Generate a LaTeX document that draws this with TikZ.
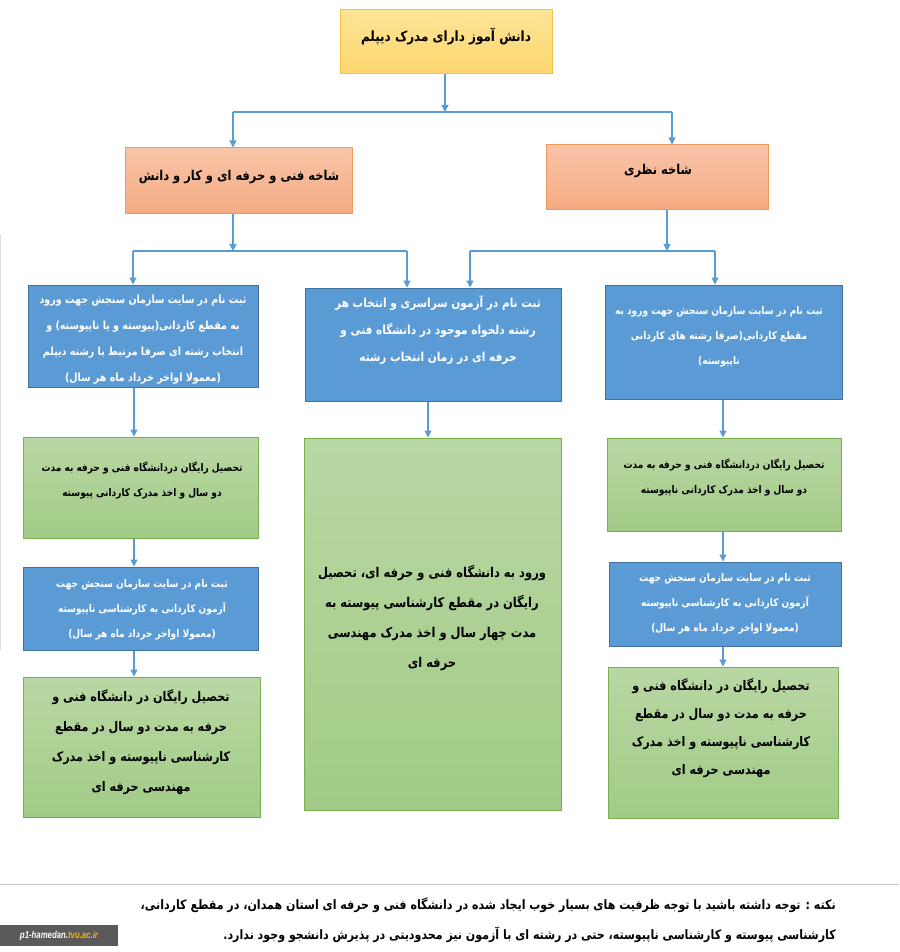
\documentclass[tikz,border=0pt]{standalone}
\usepackage{fontspec}
\newfontfamily\fa[Script=Arabic, FakeStretch=0.85]{DejaVu Sans}
\newfontfamily\logofont[FakeStretch=0.78]{Liberation Sans}
\usetikzlibrary{arrows.meta}
\TeXXeTstate=1
\newcommand\rl[1]{\beginR #1\endR}
\definecolor{arrowblue}{HTML}{5B9BD5}
\definecolor{bluefill}{HTML}{5B9BD5}
\definecolor{blueedge}{HTML}{41719C}
\definecolor{greentop}{HTML}{B8D8A3}
\definecolor{greenbot}{HTML}{A2CB87}
\definecolor{greenedge}{HTML}{78B04F}
\definecolor{salmontop}{HTML}{F8C4A8}
\definecolor{salmonbot}{HTML}{F4AC83}
\definecolor{salmonedge}{HTML}{EE9860}
\definecolor{yellowtop}{HTML}{FFE497}
\definecolor{yellowbot}{HTML}{FDD66E}
\definecolor{yellowedge}{HTML}{F4C242}
\definecolor{footline}{HTML}{C8C8C8}
\definecolor{logobg}{HTML}{5A5A5A}
\definecolor{logoorange}{HTML}{F7B21B}
\begin{document}
\begin{tikzpicture}[x=1pt,y=-1pt,
  boxbase/.style={rectangle, inner sep=0pt, line width=1pt},
  yellowbox/.style={boxbase, draw=yellowedge, top color=yellowtop, bottom color=yellowbot},
  salmonbox/.style={boxbase, draw=salmonedge, top color=salmontop, bottom color=salmonbot},
  bluebox/.style={boxbase, draw=blueedge, fill=bluefill},
  greenbox/.style={boxbase, draw=greenedge, top color=greentop, bottom color=greenbot},
  txt/.style={align=center, inner sep=0pt},
  blacktxt/.style={txt, text=black},
  whitetxt/.style={txt, text=white},
  arr/.style={draw=arrowblue, line width=1.2pt, -{Triangle[length=7pt,width=7pt]}},
  ln/.style={draw=arrowblue, line width=1.2pt}
]
\useasboundingbox (0,0) rectangle (899,952);
\fill[white] (0,0) rectangle (899,952);

% ---------- boxes ----------
\node[yellowbox, minimum width=212pt, minimum height=64pt] (top) at (446,42) {};
\node[salmonbox, minimum width=227pt, minimum height=65pt] (lbr) at (238.5,180.5) {};
\node[salmonbox, minimum width=222pt, minimum height=64pt] (rbr) at (657,177) {};
\node[bluebox, minimum width=230pt, minimum height=102pt] (lb1) at (143,336) {};
\node[bluebox, minimum width=256pt, minimum height=113pt] (mb1) at (433,344.5) {};
\node[bluebox, minimum width=237pt, minimum height=114pt] (rb1) at (723.5,342) {};
\node[greenbox, minimum width=235pt, minimum height=101pt] (lg1) at (140.5,487.5) {};
\node[greenbox, minimum width=257pt, minimum height=372pt] (mg) at (432.5,624) {};
\node[greenbox, minimum width=234pt, minimum height=93pt] (rg1) at (724,484.5) {};
\node[bluebox, minimum width=235pt, minimum height=83pt] (lb2) at (140.5,608.5) {};
\node[bluebox, minimum width=232pt, minimum height=84pt] (rb2) at (725,604) {};
\node[greenbox, minimum width=237pt, minimum height=140pt] (lg2) at (141.5,747) {};
\node[greenbox, minimum width=230pt, minimum height=151pt] (rg2) at (723,742.5) {};

% ---------- texts ----------
\node[blacktxt, font=\fa\bfseries\fontsize{14.1}{28}\selectfont] (topt) at (446,36)
  {\rl{دانش آموز دارای مدرک دیپلم}};
\node[blacktxt, font=\fa\bfseries\fontsize{13.5}{28}\selectfont] (lbrt) at (239,177)
  {\rl{شاخه فنی و حرفه ای و کار و دانش}};
\node[blacktxt, font=\fa\bfseries\fontsize{13.5}{28}\selectfont] (rbrt) at (658,171)
  {\rl{شاخه نظری}};
\node[whitetxt, font=\fa\bfseries\fontsize{11.2}{26}\selectfont] (lb1t) at (143,340)
  {\rl{ثبت نام در سایت سازمان سنجش جهت ورود}\\
   \rl{به مقطع کاردانی(پیوسته  و یا ناپیوسته) و}\\
   \rl{انتخاب رشته ای صرفا مرتبط با رشته دیپلم}\\
   \rl{(معمولا اواخر خرداد ماه هر سال)}};
\node[whitetxt, font=\fa\bfseries\fontsize{12.4}{27}\selectfont] (mb1t) at (438,330)
  {\rl{ثبت نام در آزمون سراسری و انتخاب هر}\\
   \rl{رشته دلخواه موجود  در دانشگاه فنی و}\\
   \rl{حرفه ای در زمان انتخاب رشته}};
\node[whitetxt, font=\fa\bfseries\fontsize{10.6}{25}\selectfont] (rb1t) at (719,337)
  {\rl{ثبت نام در سایت سازمان سنجش جهت ورود به}\\
   \rl{مقطع کاردانی(صرفا رشته های کاردانی}\\
   \rl{ناپیوسته)}};
\node[blacktxt, font=\fa\bfseries\fontsize{10.6}{25}\selectfont] (lg1t) at (142,480)
  {\rl{تحصیل رایگان دردانشگاه فنی و حرفه به مدت}\\
   \rl{دو سال و اخذ مدرک کاردانی پیوسته}};
\node[blacktxt, font=\fa\bfseries\fontsize{13.5}{30}\selectfont] (mgt) at (432,618)
  {\rl{ورود به دانشگاه فنی و حرفه ای، تحصیل}\\
   \rl{رایگان در مقطع کارشناسی پیوسته  به}\\
   \rl{مدت چهار سال و اخذ مدرک مهندسی}\\
   \rl{حرفه ای}};
\node[blacktxt, font=\fa\bfseries\fontsize{10.6}{25}\selectfont] (rg1t) at (724,477)
  {\rl{تحصیل رایگان دردانشگاه فنی و حرفه به مدت}\\
   \rl{دو سال و اخذ مدرک کاردانی ناپیوسته}};
\node[whitetxt, font=\fa\bfseries\fontsize{10.6}{25}\selectfont] (lb2t) at (142,610)
  {\rl{ثبت نام در سایت سازمان سنجش جهت}\\
   \rl{آزمون کاردانی به کارشناسی ناپیوسته}\\
   \rl{(معمولا اواخر خرداد ماه هر سال)}};
\node[whitetxt, font=\fa\bfseries\fontsize{10.6}{25}\selectfont] (rb2t) at (725,604)
  {\rl{ثبت نام در سایت سازمان سنجش جهت}\\
   \rl{آزمون کاردانی به کارشناسی ناپیوسته}\\
   \rl{(معمولا اواخر خرداد ماه هر سال)}};
\node[blacktxt, font=\fa\bfseries\fontsize{13.2}{30}\selectfont] (lg2t) at (141,742)
  {\rl{تحصیل رایگان در دانشگاه فنی و}\\
   \rl{حرفه به مدت دو سال در مقطع}\\
   \rl{کارشناسی ناپیوسته  و اخذ مدرک}\\
   \rl{مهندسی حرفه ای}};
\node[blacktxt, font=\fa\bfseries\fontsize{13.2}{28}\selectfont] (rg2t) at (721,728)
  {\rl{تحصیل رایگان در دانشگاه فنی و}\\
   \rl{حرفه به مدت دو سال در مقطع}\\
   \rl{کارشناسی ناپیوسته  و اخذ مدرک}\\
   \rl{مهندسی حرفه ای}};

% ---------- connectors ----------
\coordinate (j0) at (445,112);
\coordinate (j0l) at (233,112);
\coordinate (j0r) at (672,112);
\draw[arr] (top.south -| j0) -- (j0);
\draw[ln] (j0l) -- (j0r);
\draw[arr] (j0l) -- (j0l |- lbr.north);
\draw[arr] (j0r) -- (j0r |- rbr.north);

\coordinate (j1) at (233,251);
\coordinate (j1l) at (133,251);
\coordinate (j1r) at (407,251);
\draw[arr] (lbr.south -| j1) -- (j1);
\draw[ln] (j1l) -- (j1r);
\draw[arr] (j1l) -- (j1l |- lb1.north);
\draw[arr] (j1r) -- (j1r |- mb1.north);

\coordinate (j2) at (667,251);
\coordinate (j2l) at (470,251);
\coordinate (j2r) at (715,251);
\draw[arr] (rbr.south -| j2) -- (j2);
\draw[ln] (j2l) -- (j2r);
\draw[arr] (j2l) -- (j2l |- mb1.north);
\draw[arr] (j2r) -- (j2r |- rb1.north);

\coordinate (cl) at (134,0);
\coordinate (cm) at (428,0);
\coordinate (cr) at (723,0);
\draw[arr] (lb1.south -| cl) -- (lg1.north -| cl);
\draw[arr] (lg1.south -| cl) -- (lb2.north -| cl);
\draw[arr] (lb2.south -| cl) -- (lg2.north -| cl);
\draw[arr] (mb1.south -| cm) -- (mg.north -| cm);
\draw[arr] (rb1.south -| cr) -- (rg1.north -| cr);
\draw[arr] (rg1.south -| cr) -- (rb2.north -| cr);
\draw[arr] (rb2.south -| cr) -- (rg2.north -| cr);

% ---------- footer ----------
\coordinate (fl) at (0,884);
\coordinate (fr) at (899,884);
\draw[footline, line width=1pt] (fl) -- (fr);
\draw[footline!60, line width=0.8pt] (0.5,235) -- (0.5,650);
\node[blacktxt, anchor=east, font=\fa\bfseries\fontsize{13}{30}\selectfont] (note1) at (836,905)
  {\rl{نکته : توجه داشته باشید با توجه ظرفیت های بسیار خوب ایجاد شده در دانشگاه فنی و حرفه ای استان همدان، در مقطع کاردانی،}};
\node[blacktxt, anchor=east, font=\fa\bfseries\fontsize{13}{30}\selectfont] (note2) at (836,935)
  {\rl{کارشناسی پیوسته و کارشناسی ناپیوسته، حتی در رشته ای با آزمون نیز محدودیتی در پذیرش دانشجو وجود ندارد.}};
\node[rectangle, fill=logobg, minimum width=118pt, minimum height=21pt, inner sep=0pt] (logo) at (59,935.5)
  {\logofont\bfseries\itshape\fontsize{10}{12}\selectfont\textcolor{white}{p1-hamedan.}\textcolor{logoorange}{tvu.ac.ir}};
\end{tikzpicture}
\end{document}
